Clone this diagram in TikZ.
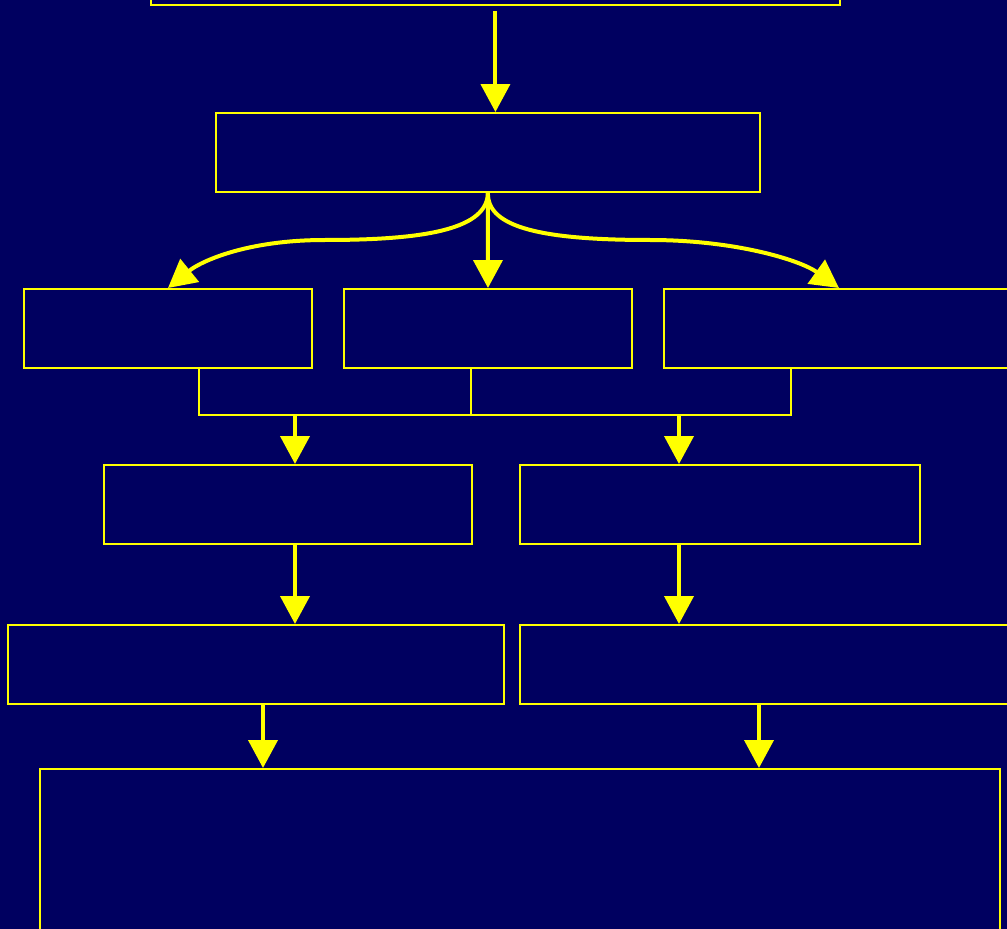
\documentclass[tikz,border=0pt]{standalone}
\usetikzlibrary{
  positioning,
  arrows.meta
}

\definecolor{slidebg}{RGB}{0,0,96}
\definecolor{slideyellow}{RGB}{255,255,0}

\begin{document}
\begin{tikzpicture}[
    x=0.02cm, y=-0.02cm,
    stage/.style={
        rectangle,
        draw=slideyellow,
        line width=0.04cm,
        anchor=north west,
        inner sep=0pt,
        minimum height=1.58cm
    },
    arrow/.style={
        -{Triangle[length=0.56cm,width=0.58cm]},
        draw=slideyellow,
        line width=0.08cm
    },
    link/.style={draw=slideyellow, line width=0.04cm}
]

% page and background
\useasboundingbox (0,0) rectangle (1007,929);
\fill[slidebg] (0,0) rectangle (1007,929);
\clip (0,0) rectangle (1007,929);

% top row
\node[stage, minimum width=13.78cm] (top) at (150,-75) {};
\node[stage, minimum width=10.88cm] (split) at (215,112) {};

% three branches
\node[stage, minimum width=5.76cm] (left) at (23,288) {};
\node[stage, minimum width=5.76cm] (mid) at (343,288) {};
\node[stage, minimum width=7.00cm] (right) at (663,288) {};

% two merged paths
\node[stage, minimum width=7.36cm] (mergeL) at (103,464) {};
\node[stage, minimum width=8.00cm] (mergeR) at (519,464) {};
\node[stage, minimum width=9.92cm] (resultL) at (7,624) {};
\node[stage, minimum width=9.92cm] (resultR) at (519,624) {};

% final box
\node[stage, minimum width=19.20cm, minimum height=4cm] (final) at (39,768) {};

% bracket under the branches
\coordinate (joinL) at (199,415);
\coordinate (joinM) at (471,415);
\coordinate (joinR) at (791,415);
\coordinate (dropL) at (295,415);
\coordinate (dropR) at (679,415);
\coordinate (downL) at (263,0);
\coordinate (downR) at (759,0);
\coordinate (bendL) at (325,240);
\coordinate (bendR) at (650,240);

% Arrows
\draw[arrow] ([yshift=-0.1cm]top.south) -- (top.south |- split.north);
\draw[arrow] (split.south) -- (mid.north);
\draw[arrow] (split.south) .. controls (487,228) and (430,240) .. (bendL)
    .. controls (245,240) and (200,262) .. (left.north);
\draw[arrow] (split.south) .. controls (487,228) and (544,240) .. (bendR)
    .. controls (735,240) and (800,260) .. (right.north);

\draw[link] (left.south -| joinL) |- (joinR) -- (right.south -| joinR);
\draw[link] (mid.south -| joinM) -- (joinM);
\draw[arrow] (dropL) -- (dropL |- mergeL.north);
\draw[arrow] (dropR) -- (dropR |- mergeR.north);

\draw[arrow] (mergeL.south -| dropL) -- (dropL |- resultL.north);
\draw[arrow] (mergeR.south -| dropR) -- (dropR |- resultR.north);
\draw[arrow] (resultL.south -| downL) -- (downL |- final.north);
\draw[arrow] (resultR.south -| downR) -- (downR |- final.north);

\end{tikzpicture}
\end{document}
